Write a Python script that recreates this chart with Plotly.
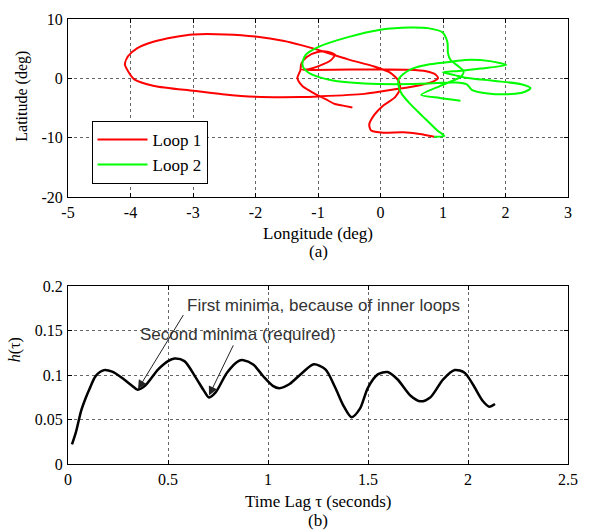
import plotly.graph_objects as go

# ---------------- data ----------------
# Loop 1 (red) trajectory, longitude / latitude in degrees
loop1_lon = [-0.45, -0.6, -0.73, -0.88, -1.04, -1.15, -1.25, -1.31, -1.33, -1.30, -1.28,
             -1.27, -1.18, -1.02, -0.85, -0.73, -0.8, -0.98, -1.15, -1.25,
             -1.1, -0.47, 0.05, 0.45, 0.73, 0.88, 0.92, 0.84, 0.63, 0.26, -0.26, -0.99,
             -1.27, -2.0, -2.53, -2.99, -3.62, -3.94, -4.04, -4.09, -4.04, -3.89, -3.62,
             -3.31, -2.99, -2.48, -2.0, -1.54, -1.27, -1.0, -0.52, -0.1, 0.16, 0.29, 0.31,
             0.235, 0.05, -0.1, -0.18, -0.15, 0.05, 0.365, 0.626, 0.86]
loop1_lat = [-4.9, -4.6, -4.33, -3.5, -2.67, -2.0, -1.28, -0.5, 0.1, 0.9, 1.4,
             2.4, 3.6, 4.4, 4.5, 4.0, 3.0, 2.1, 1.55, 1.45,
             1.42, 1.5, 1.5, 1.45, 1.2, 0.66, 0.0, -0.55, -1.15, -1.8, -2.62, -3.05,
             -3.15, -3.1, -2.67, -2.1, -1.28, -0.17, 1.22, 2.33, 3.72, 5.1, 6.2,
             6.94, 7.4, 7.4, 7.05, 6.3, 5.6, 4.8, 3.2, 2.0, 0.93, -0.44, -1.8,
             -3.17, -4.54, -6.17, -7.81, -8.8, -9.18, -9.1, -9.4, -9.84]

# Loop 2 (green) trajectory
loop2_lon = [0.86, 1.02, 0.9, 0.68, 0.47, 0.34, 0.29, 0.29, 0.36, 0.5, 0.75, 1.1,
             1.35, 1.75, 2.01, 1.6, 1.25, 1.0, 1.2, 1.36, 1.83, 2.25, 2.4, 2.3, 2.09,
             1.72, 1.46, 1.38, 1.2, 1.0, 0.78, 0.26, -0.26, -0.78, -1.1, -1.23, -1.25,
             -1.2, -0.99, -0.52, 0.0, 0.47, 0.78, 0.99, 1.07, 1.08, 1.12, 1.25, 1.33,
             1.3, 1.2, 0.95, 0.65, 0.95, 1.28]
loop2_lat = [-9.84, -9.72, -8.7, -6.45, -4.26, -2.62, -1.26, -0.16, 0.7, 1.6, 2.3, 2.75,
             3.1, 2.9, 2.25, 1.65, 1.25, 1.0, 0.5, 0.11, -0.44, -1.0, -1.66, -2.3, -2.65,
             -2.55, -1.93, -1.0, -0.7, -0.75, -0.87, -0.98, -0.87, -0.33, 0.66, 1.75, 2.57,
             3.93, 5.3, 6.94, 8.2, 8.58, 8.42, 7.76, 6.12, 4.2, 3.1, 2.0, 1.2,
             0.38, -0.2, -1.3, -2.8, -3.3, -3.76]

# h(tau) versus time lag tau (seconds)
tau = [0.02, 0.04, 0.066, 0.09, 0.107, 0.139, 0.18, 0.221, 0.279, 0.32, 0.348, 0.385,
       0.451, 0.5, 0.533, 0.582, 0.639, 0.68, 0.705, 0.738, 0.795, 0.852, 0.877, 0.926,
       0.975, 1.024, 1.057, 1.106, 1.172, 1.229, 1.287, 1.336, 1.377, 1.418, 1.459, 1.5,
       1.549, 1.598, 1.647, 1.713, 1.762, 1.811, 1.876, 1.934, 1.983, 2.024, 2.073,
       2.106, 2.135]
h_tau = [0.022, 0.036, 0.060, 0.075, 0.084, 0.099, 0.1055, 0.1037, 0.0952, 0.088, 0.0835,
         0.0878, 0.1063, 0.1156, 0.1185, 0.1156, 0.097, 0.0822, 0.0748, 0.0804, 0.1026,
         0.1156, 0.1167, 0.1119, 0.0989, 0.0878, 0.0852, 0.0896, 0.1026, 0.112, 0.1063,
         0.0859, 0.0656, 0.0526, 0.0619, 0.0859, 0.1007, 0.1033, 0.0952, 0.0767, 0.0704,
         0.0748, 0.0952, 0.1056, 0.1026, 0.0896, 0.0711, 0.0644, 0.0674]

top_xticks = [-5, -4, -3, -2, -1, 0, 1, 2, 3]
top_xlabels = ["-5", "-4", "-3", "-2", "-1", "0", "1", "2", "3"]
top_yticks = [-20, -10, 0, 10]
top_ylabels = ["-20", "-10", "0", "10"]
bot_xticks = [0, 0.5, 1, 1.5, 2, 2.5]
bot_xlabels = ["0", "0.5", "1", "1.5", "2", "2.5"]
bot_yticks = [0, 0.05, 0.1, 0.15, 0.2]
bot_ylabels = ["0", "0.05", "0.1", "0.15", "0.2"]

# ---------------- figure ----------------
SERIF = "Liberation Serif"
SANS = "Liberation Sans"

fig = go.Figure()
fig.add_trace(go.Scatter(x=loop1_lon, y=loop1_lat, mode="lines", name="Loop 1",
                         line=dict(color="#ff0000", width=2, shape="spline", smoothing=0.7),
                         xaxis="x", yaxis="y"))
fig.add_trace(go.Scatter(x=loop2_lon, y=loop2_lat, mode="lines", name="Loop 2",
                         line=dict(color="#00ff00", width=2, shape="spline", smoothing=0.7),
                         xaxis="x", yaxis="y"))
fig.add_trace(go.Scatter(x=tau, y=h_tau, mode="lines", showlegend=False,
                         line=dict(color="black", width=2.5, shape="spline", smoothing=0.8),
                         xaxis="x2", yaxis="y2"))

axis_style = dict(showline=True, linecolor="black", linewidth=1, mirror="ticks",
                  ticks="inside", ticklen=4, tickcolor="black", tickwidth=1,
                  showgrid=True, gridcolor="#666666", griddash="dot", gridwidth=1,
                  zeroline=False, ticklabelstandoff=1, layer="below traces",
                  tickfont=dict(family=SERIF, size=16, color="black"))

fig.update_layout(
    width=589, height=531,
    margin=dict(l=68, r=11, t=14, b=67),
    paper_bgcolor="white", plot_bgcolor="white",
    xaxis=dict(domain=[0, 1], anchor="y", range=[-5, 3], tickvals=top_xticks,
               ticktext=top_xlabels, **axis_style),
    yaxis=dict(domain=[0.6, 1], anchor="x", range=[-20, 10], tickvals=top_yticks,
               ticktext=top_ylabels, **axis_style),
    xaxis2=dict(domain=[0, 1], anchor="y2", range=[0, 2.5], tickvals=bot_xticks,
                ticktext=bot_xlabels, **axis_style),
    yaxis2=dict(domain=[0, 0.4], anchor="x2", range=[0, 0.2], tickvals=bot_yticks,
                ticktext=bot_ylabels, **axis_style),
    legend=dict(x=0.047, y=(464 - 117) / 450, xanchor="left", yanchor="top",
                bgcolor="white", bordercolor="black", borderwidth=1,
                font=dict(family=SERIF, size=17, color="black"),
                itemwidth=50, tracegroupgap=0),
    showlegend=True,
)

ann = []
# axis titles
ann.append(dict(text="Longitude (deg)", x=0.5, y=(464 - 231) / 450, xref="paper", yref="paper",
                showarrow=False, xanchor="center", yanchor="middle",
                font=dict(family=SERIF, size=17, color="black")))
ann.append(dict(text="(a)", x=0.5, y=(464 - 249) / 450, xref="paper", yref="paper",
                showarrow=False, xanchor="center", yanchor="middle",
                font=dict(family=SERIF, size=17, color="black")))
ann.append(dict(text="Time Lag \u03c4 (seconds)", x=0.5, y=(464 - 502) / 450, xref="paper", yref="paper",
                showarrow=False, xanchor="center", yanchor="middle",
                font=dict(family=SERIF, size=17, color="black")))
ann.append(dict(text="(b)", x=0.5, y=(464 - 521) / 450, xref="paper", yref="paper",
                showarrow=False, xanchor="center", yanchor="middle",
                font=dict(family=SERIF, size=17, color="black")))
ann.append(dict(text="Latitude (deg)", x=(21.7 - 68) / 510, y=(464 - 92) / 450, xref="paper", yref="paper",
                showarrow=False, xanchor="center", yanchor="middle", textangle=-90,
                font=dict(family=SERIF, size=16, color="black")))
ann.append(dict(text="<i>h</i>(\u03c4)", x=(13.8 - 68) / 510, y=(464 - 348) / 450, xref="paper", yref="paper",
                showarrow=False, xanchor="center", yanchor="middle", textangle=-90,
                font=dict(family=SERIF, size=16, color="black")))
# callouts
ann.append(dict(text="First minima, because of inner loops", x=0.585, y=0.1786, xref="x2", yref="y2",
                showarrow=False, xanchor="left", yanchor="middle",
                font=dict(family=SANS, size=17, color="#333333")))
ann.append(dict(text="Second minima (required)", x=0.348, y=0.145, xref="x2", yref="y2",
                showarrow=False, xanchor="left", yanchor="middle",
                font=dict(family=SANS, size=17, color="#333333")))
ann.append(dict(text="", x=0.35, y=0.084, ax=0.581, ay=0.169, xref="x2", yref="y2",
                axref="x2", ayref="y2", showarrow=True, arrowhead=2, arrowsize=1.8,
                arrowwidth=1, arrowcolor="#222222"))
ann.append(dict(text="", x=0.705, y=0.077, ax=0.83, ay=0.135, xref="x2", yref="y2",
                axref="x2", ayref="y2", showarrow=True, arrowhead=2, arrowsize=1.8,
                arrowwidth=1, arrowcolor="#222222"))
fig.update_layout(annotations=ann)

fig.write_html("out.html")
